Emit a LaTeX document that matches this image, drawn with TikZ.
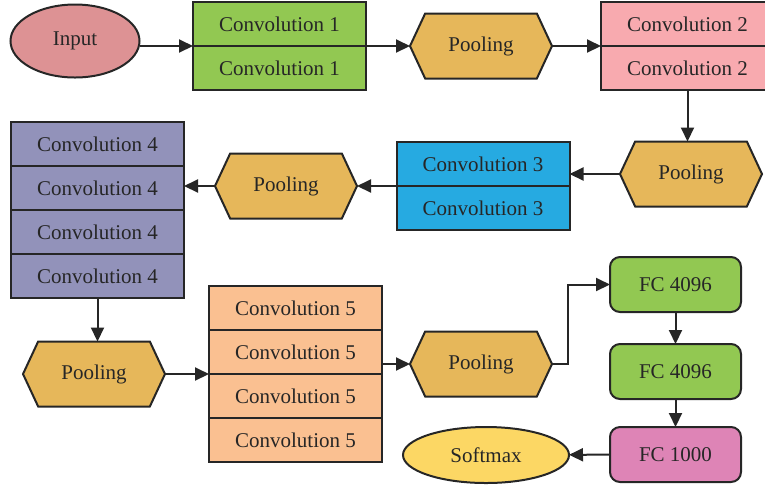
\documentclass[tikz,border=0pt]{standalone}
\usepackage{fontspec}
\setmainfont{Liberation Serif}
\usepackage{xcolor}
\usepackage{tikz}
\usetikzlibrary{positioning, arrows.meta, shapes.geometric, shapes.symbols}
\definecolor{inputcolor}{RGB}{221,146,148}
\definecolor{convA}{RGB}{146,200,82}
\definecolor{convB}{RGB}{248,170,175}
\definecolor{convC}{RGB}{38,170,225}
\definecolor{convD}{RGB}{146,146,186}
\definecolor{convE}{RGB}{250,192,145}
\definecolor{poolcolor}{RGB}{230,183,90}
\definecolor{fccolor}{RGB}{222,132,182}
\definecolor{softcolor}{RGB}{252,215,100}

\begin{document}
\begin{tikzpicture}[
    x=0.5pt, y=-0.5pt,
    every node/.style={font=\fontsize{10.5}{12}\selectfont, text=black!85, line width=1pt, align=center},
    conv/.style={draw=black!85, fill=#1, minimum width=86.5pt, minimum height=22pt, outer sep=0pt},
    pool/.style={draw=black!85, fill=poolcolor, signal, signal to=west and east,
                 signal pointer angle=130, minimum width=71pt, minimum height=32.5pt, outer sep=0pt},
    fc/.style={draw=black!85, fill=#1, rounded corners=5pt, minimum width=65.5pt, minimum height=27.5pt, outer sep=0pt},
    oval/.style={draw=black!85, fill=#1, ellipse, outer sep=0pt},
    arr/.style={-{Triangle[length=7pt, width=6.5pt]}, line width=1pt, draw=black!85}
]
\useasboundingbox (0,0) rectangle (765,484);

% ---- Row 1 ----
\node[oval=inputcolor, minimum width=64.5pt, minimum height=36.5pt] (input) at (75,41) {Input};
\node[conv=convA] (c1a) at (279.5,24) {Convolution 1};
\node[conv=convA, below=0pt of c1a] (c1b) {Convolution 1};
\node[pool] (pool1) at (481,46) {Pooling};
\node[conv=convB] (c2a) at (687.5,24) {Convolution 2};
\node[conv=convB, below=0pt of c2a] (c2b) {Convolution 2};
\draw[arr] (input.east |- c1a.south) -- (c1a.south west);
\draw[arr] (c1a.south east) -- (pool1.west);
\draw[arr] (pool1.east) -- (c2a.south west);

% ---- Row 2 ----
\node[pool] (pool2) at (691,174) {Pooling};
\node[conv=convC] (c3a) at (483,164) {Convolution 3};
\node[conv=convC, below=0pt of c3a] (c3b) {Convolution 3};
\node[pool] (pool3) at (286,186) {Pooling};
\node[conv=convD] (c4a) at (97.5,144) {Convolution 4};
\node[conv=convD, below=0pt of c4a] (c4b) {Convolution 4};
\node[conv=convD, below=0pt of c4b] (c4c) {Convolution 4};
\node[conv=convD, below=0pt of c4c] (c4d) {Convolution 4};
\draw[arr] (c2b.south) -- (c2b.south |- pool2.north);
\draw[arr] (pool2.west) -- (pool2.west -| c3a.east);
\draw[arr] (c3a.south west) -- (pool3.east);
\draw[arr] (pool3.west) -- (pool3.west -| c4b.east);

% ---- Row 3 ----
\node[pool] (pool4) at (94,374) {Pooling};
\node[conv=convE] (c5a) at (295.5,308) {Convolution 5};
\node[conv=convE, below=0pt of c5a] (c5b) {Convolution 5};
\node[conv=convE, below=0pt of c5b] (c5c) {Convolution 5};
\node[conv=convE, below=0pt of c5c] (c5d) {Convolution 5};
\node[pool] (pool5) at (481,364) {Pooling};
\node[fc=convA] (fc1) at (675.5,284.5) {FC 4096};
\node[fc=convA] (fc2) at (675.5,371.5) {FC 4096};
\node[fc=fccolor] (fc3) at (675.5,454.5) {FC 1000};
\node[oval=softcolor, minimum width=83pt, minimum height=28pt] (soft) at (486,455) {Softmax};
\draw[arr] (c4d.south) -- (c4d.south |- pool4.north);
\draw[arr] (pool4.east) -- (c5b.south west);
\draw[arr] (pool5.west -| c5b.east) -- (pool5.west);
\draw[arr] (pool5.east) -- ++(16,0) |- (fc1.west);
\draw[arr] (fc1) -- (fc2);
\draw[arr] (fc2) -- (fc3);
\draw[arr] (fc3) -- (soft);

\end{tikzpicture}
\end{document}
